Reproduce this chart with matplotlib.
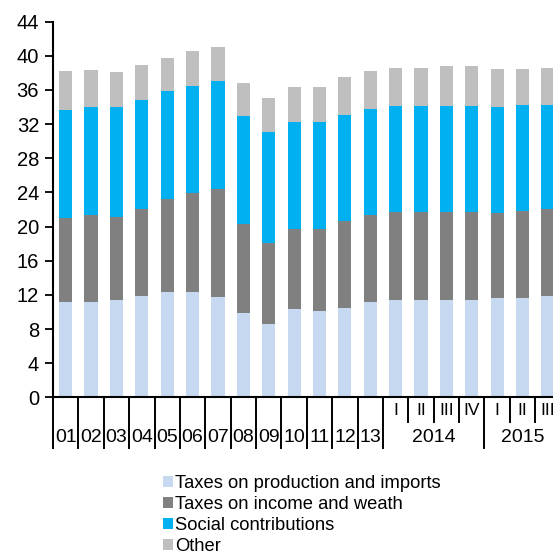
import matplotlib
matplotlib.use("Agg")
import matplotlib.pyplot as plt
from matplotlib.patches import Patch
import numpy as np

plt.rcParams['font.family'] = ['Liberation Sans', 'DejaVu Sans']

categories = ["01", "02", "03", "04", "05", "06", "07", "08", "09", "10", "11", "12", "13",
              "I", "II", "III", "IV", "I", "II", "III"]
years = ["2014", "2015"]

taxes_production = [11.2, 11.2, 11.4, 11.9, 12.3, 12.3, 11.7, 9.9, 8.6, 10.3, 10.1, 10.5, 11.2,
                    11.4, 11.4, 11.4, 11.4, 11.6, 11.6, 11.9]
taxes_income = [9.8, 10.2, 9.7, 10.2, 10.9, 11.6, 12.7, 10.4, 9.5, 9.4, 9.6, 10.2, 10.2,
                10.3, 10.3, 10.3, 10.3, 10.0, 10.2, 10.2]
social = [12.7, 12.6, 12.9, 12.7, 12.7, 12.6, 12.6, 12.7, 13.0, 12.6, 12.6, 12.4, 12.4,
          12.4, 12.4, 12.4, 12.4, 12.4, 12.4, 12.2]
other = [4.5, 4.3, 4.1, 4.1, 3.8, 4.1, 4.0, 3.8, 4.0, 4.0, 4.0, 4.4, 4.4,
         4.5, 4.5, 4.7, 4.7, 4.5, 4.3, 4.3]

series = [
    ("Taxes on production and imports", taxes_production, "#C6D9F1"),
    ("Taxes on income and weath", taxes_income, "#808080"),
    ("Social contributions", social, "#00B0F0"),
    ("Other", other, "#BFBFBF"),
]

W, H = 553, 554
fig = plt.figure(figsize=(W / 100, H / 100), dpi=100)
ax = fig.add_axes([53 / W, 1 - 397.3 / H, 1 - 53 / W, (397.3 - 21.7) / H])

x = np.arange(len(categories))
bottom = np.zeros(len(categories))
for name, vals, col in series:
    v = np.array(vals)
    ax.bar(x, v, bottom=bottom, width=0.52, color=col, edgecolor='none', label=name)
    bottom += v

ax.set_ylim(0, 44)
ax.set_xlim(-0.5, 19.2)
ax.set_yticks(np.arange(0, 45, 4))
ax.tick_params(axis='y', length=6, width=1.3, labelsize=14.5, pad=4, direction='out')
ax.set_xticks([])
for s in ['top', 'right']:
    ax.spines[s].set_visible(False)
for s in ['left', 'bottom']:
    ax.spines[s].set_linewidth(1.5)

tr = ax.get_xaxis_transform()
axh = 397.3 - 21.7
long_y = -51 / axh
short_y = -25 / axh
lab_y = -40 / axh
q_y = -13.5 / axh

# separators
long_pos = [k - 0.5 for k in range(14)] + [16.5]
short_pos = [13.5, 14.5, 15.5, 17.5, 18.5]
for p in long_pos:
    ax.plot([p, p], [0, long_y], transform=tr, color='black', lw=1.4, clip_on=False)
for p in short_pos:
    ax.plot([p, p], [0, short_y], transform=tr, color='black', lw=1.4, clip_on=False)

for i, c in enumerate(categories):
    if i < 13:
        ax.text(i, lab_y, c, transform=tr, ha='center', va='center', fontsize=14)
    else:
        ax.text(i, q_y, c, transform=tr, ha='center', va='center', fontsize=12.5)
ax.text(14.5, lab_y, years[0], transform=tr, ha='center', va='center', fontsize=14)
ax.text(18.0, lab_y, years[1], transform=tr, ha='center', va='center', fontsize=14)

handles = [Patch(facecolor=col, edgecolor='none') for _, _, col in series]
labels = [name for name, _, _ in series]
fig.legend(handles, labels, loc='upper left', bbox_to_anchor=(163 / W, 1 - 475 / H),
           frameon=False, fontsize=13.2, handlelength=0.55, handleheight=0.55,
           handletextpad=0.12, labelspacing=0.22, borderpad=0, borderaxespad=0)

fig.savefig("out.png", dpi=100)
